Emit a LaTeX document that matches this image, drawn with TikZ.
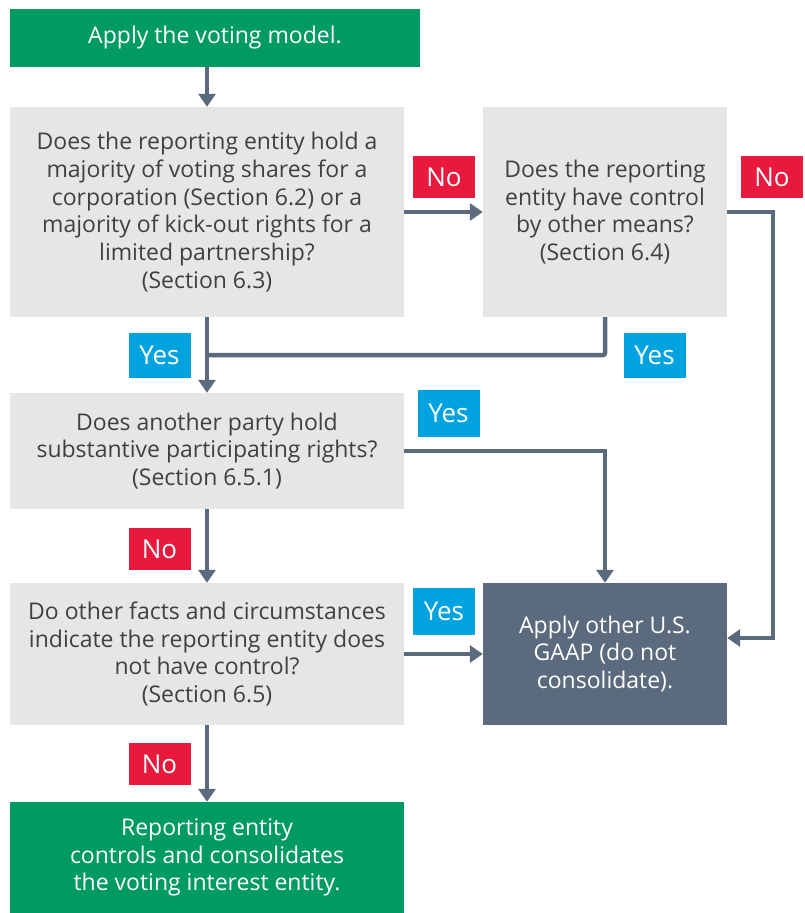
\documentclass[tikz,border=0pt]{standalone}
\usepackage{fontspec}
\setmainfont{Open Sans}
\usetikzlibrary{arrows.meta, positioning}
\definecolor{votegreen}{HTML}{009A63}
\definecolor{askgray}{HTML}{E6E6E6}
\definecolor{slate}{HTML}{5B6B7D}
\definecolor{nored}{HTML}{E8193C}
\definecolor{yesblue}{HTML}{00A3E0}
\definecolor{asktext}{HTML}{404040}

\begin{document}
\begin{tikzpicture}[x=1pt,y=-1pt,
  font=\fontsize{23}{27.7}\selectfont,
  every node/.style={inner sep=0pt, align=center},
  endbox/.style={fill=votegreen, text=white, minimum width=394pt},
  askbox/.style={fill=askgray, text=asktext, minimum width=#1},
  askbox/.default=394pt,
  gaapbox/.style={fill=slate, text=white, minimum width=244pt, minimum height=142pt},
  answer/.style={text=white, minimum width=62pt, font=\fontsize{26}{30}\selectfont},
  nolabel/.style={answer, fill=nored, minimum height=42pt},
  yeslabel/.style={answer, fill=yesblue, minimum height=45pt},
  flow/.style={draw=slate, line width=4.5pt, -{Triangle[width=17pt,length=13pt]}},
  joinline/.style={draw=slate, line width=4.5pt, rounded corners=2pt}]
\useasboundingbox (0,0) rectangle (805,913);

% boxes
\node[endbox, minimum width=410pt, minimum height=58pt] (start) at (215,38) {Apply the voting model.};
\node[askbox, minimum height=210pt] (q1) at (207,212)
  {Does the reporting entity hold a\\ majority of voting shares for a\\ corporation (Section 6.2) or a\\ majority of kick-out rights for a\\ limited partnership?\\ (Section 6.3)};
\node[askbox=244pt, minimum height=210pt] (q2) at (605,212)
  {Does the reporting\\ entity have control\\ by other means?\\ (Section 6.4)};
\node[askbox, minimum height=116pt] (q3) at (207,451)
  {Does another party hold\\ substantive participating rights?\\ (Section 6.5.1)};
\node[askbox, minimum height=142pt] (q4) at (207,654)
  {Do other facts and circumstances\\ indicate the reporting entity does\\ not have control?\\ (Section 6.5)};
\node[gaapbox] (gaap) at (605,654) {Apply other U.S.\\ GAAP (do not\\ consolidate).};
\node[endbox, minimum height=111pt] (done) at (207,857.5)
  {Reporting entity\\ controls and consolidates\\ the voting interest entity.};

% connectors
\coordinate (merge) at (207,355);
\draw[flow] (start.south -| q1) -- (q1);
\draw[flow] (q1) -- (q2);
\draw[flow] (q2.east) -- ++(46,0) |- ([yshift=16pt]gaap.east);
\draw[flow] (q1) -- (q3);
\draw[joinline] (q2.south) |- (merge);
\draw[flow] (q3.east) -| (gaap.north);
\draw[flow] (q3) -- (q4);
\draw[flow] (q4) -- (gaap);
\draw[flow] (q4) -- (done);

% answers
\node[nolabel] (no1) at (444,177) {No};
\node[nolabel] (no2) at (772,177) {No};
\node[yeslabel] (yes1) at (159.5,355.5) {Yes};
\node[yeslabel] (yes2) at (654.5,355.5) {Yes};
\node[yeslabel, minimum height=47pt] (yes3) at (448.5,413.5) {Yes};
\node[nolabel] (no3) at (159.5,549) {No};
\node[yeslabel, minimum height=47pt] (yes4) at (444,611.5) {Yes};
\node[nolabel] (no4) at (159.5,764) {No};
\end{tikzpicture}
\end{document}
